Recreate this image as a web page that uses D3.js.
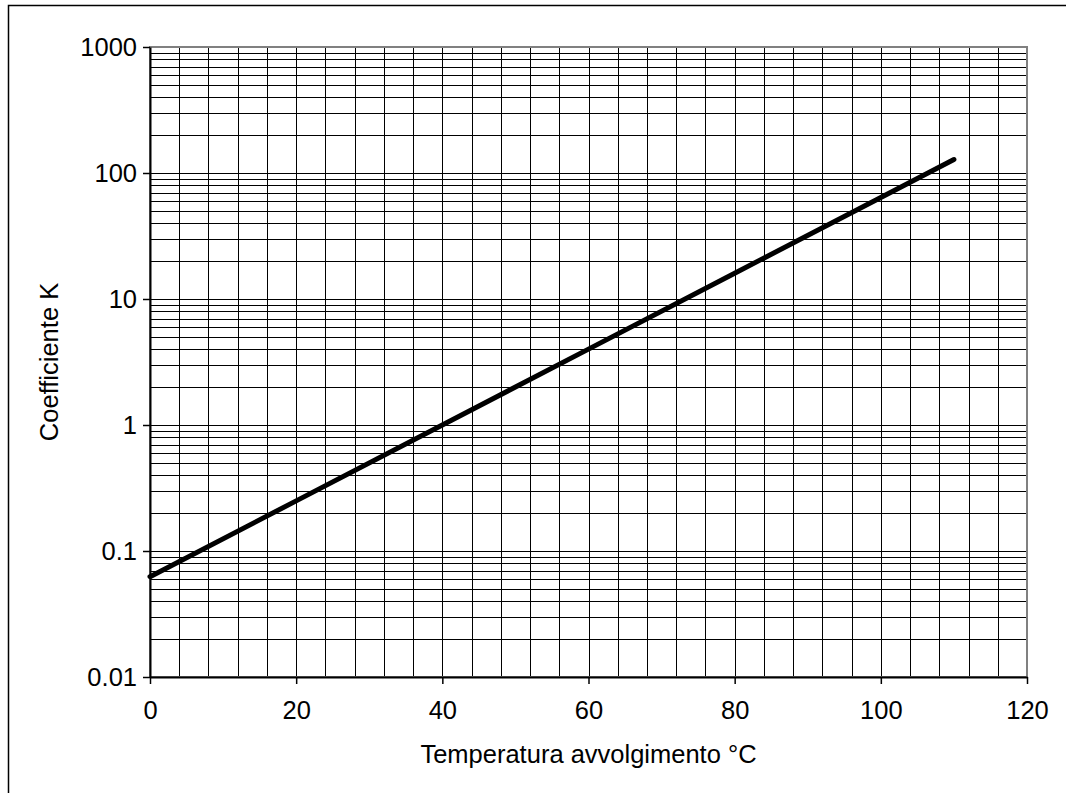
<!DOCTYPE html>
<html>
<head>
<meta charset="utf-8">
<script src="https://cdn.jsdelivr.net/npm/d3@7"></script>
<style>
  body { margin: 0; background: #fff; }
  svg { display: block; }
</style>
</head>
<body>
<svg width="1066" height="793"></svg>
<script>
// temperature (°C) and coefficient K
var temps = [0, 20, 40, 60, 80, 100, 110];
var kValues = [0.0625, 0.25, 1, 4, 16, 64, 128];

var xTicks = [0, 20, 40, 60, 80, 100, 120];
var yTicks = [0.01, 0.1, 1, 10, 100, 1000];
var yTickLabels = ["0.01", "0.1", "1", "10", "100", "1000"];

var xLabel = "Temperatura avvolgimento °C";
var yLabel = "Coefficiente K";

var margin = {left: 150, top: 47, right: 1027, bottom: 677};

var svg = d3.select("svg")
    .attr("font-family", "'Liberation Sans', Arial, sans-serif");

// outer frame (only top and left edges fall inside the picture)
svg.append("rect")
    .attr("x", 8.5).attr("y", 5.5)
    .attr("width", 1100).attr("height", 850)
    .attr("fill", "none")
    .attr("stroke", "#000")
    .attr("stroke-width", 1.5);

var x = d3.scaleLinear().domain([0, 120]).range([margin.left, margin.right]);
var y = d3.scaleLog().domain([0.01, 1000]).range([margin.bottom, margin.top]);

// grid: vertical every 4 degrees, horizontal at 1..9 of each decade
var xGrid = d3.range(0, 121, 4);
var yGrid = [];
for (var e = -2; e < 3; e++) {
    for (var m = 1; m <= 9; m++) yGrid.push(m * Math.pow(10, e));
}
yGrid.push(1000);

var grid = svg.append("g")
    .attr("stroke", "#000")
    .attr("stroke-width", 1);

grid.selectAll("line.v")
  .data(xGrid)
  .join("line")
    .attr("class", "v")
    .attr("x1", d => Math.round(x(d)) + 0.5)
    .attr("x2", d => Math.round(x(d)) + 0.5)
    .attr("y1", margin.top)
    .attr("y2", margin.bottom);

grid.selectAll("line.h")
  .data(yGrid)
  .join("line")
    .attr("class", "h")
    .attr("x1", margin.left)
    .attr("x2", margin.right)
    .attr("y1", d => Math.round(y(d)) + 0.5)
    .attr("y2", d => Math.round(y(d)) + 0.5);

// plot area border
svg.append("rect")
    .attr("x", margin.left)
    .attr("y", margin.top)
    .attr("width", margin.right - margin.left)
    .attr("height", margin.bottom - margin.top)
    .attr("fill", "none")
    .attr("stroke", "#808080")
    .attr("stroke-width", 2);

// axes
var xAxis = svg.append("g")
    .attr("transform", `translate(0,${margin.bottom})`)
    .call(d3.axisBottom(x).tickValues(xTicks).tickSize(7).tickPadding(17).tickSizeOuter(0));

var yAxis = svg.append("g")
    .attr("transform", `translate(${margin.left},0)`)
    .call(d3.axisLeft(y).tickValues(yTicks).tickFormat((d, i) => yTickLabels[i])
        .tickSize(7).tickPadding(6).tickSizeOuter(0));

[xAxis, yAxis].forEach(function(a) {
    a.select(".domain").attr("stroke", "#000").attr("stroke-width", 2);
    a.selectAll(".tick line").attr("stroke", "#000").attr("stroke-width", 1.5);
    a.selectAll(".tick text")
        .attr("font-size", 25.5)
        .attr("fill", "#000")
        .attr("font-family", "'Liberation Sans', Arial, sans-serif");
});

// curve
var line = d3.line()
    .x((d, i) => x(temps[i]))
    .y(d => y(d));

svg.append("path")
    .datum(kValues)
    .attr("d", line)
    .attr("fill", "none")
    .attr("stroke", "#000")
    .attr("stroke-width", 5)
    .attr("stroke-linecap", "round");

// axis titles
svg.append("text")
    .attr("x", (margin.left + margin.right) / 2)
    .attr("y", 763)
    .attr("text-anchor", "middle")
    .attr("font-size", 25.5)
    .text(xLabel);

svg.append("text")
    .attr("transform", `translate(58,${(margin.top + margin.bottom) / 2}) rotate(-90)`)
    .attr("text-anchor", "middle")
    .attr("font-size", 25.5)
    .text(yLabel);
</script>
</body>
</html>
